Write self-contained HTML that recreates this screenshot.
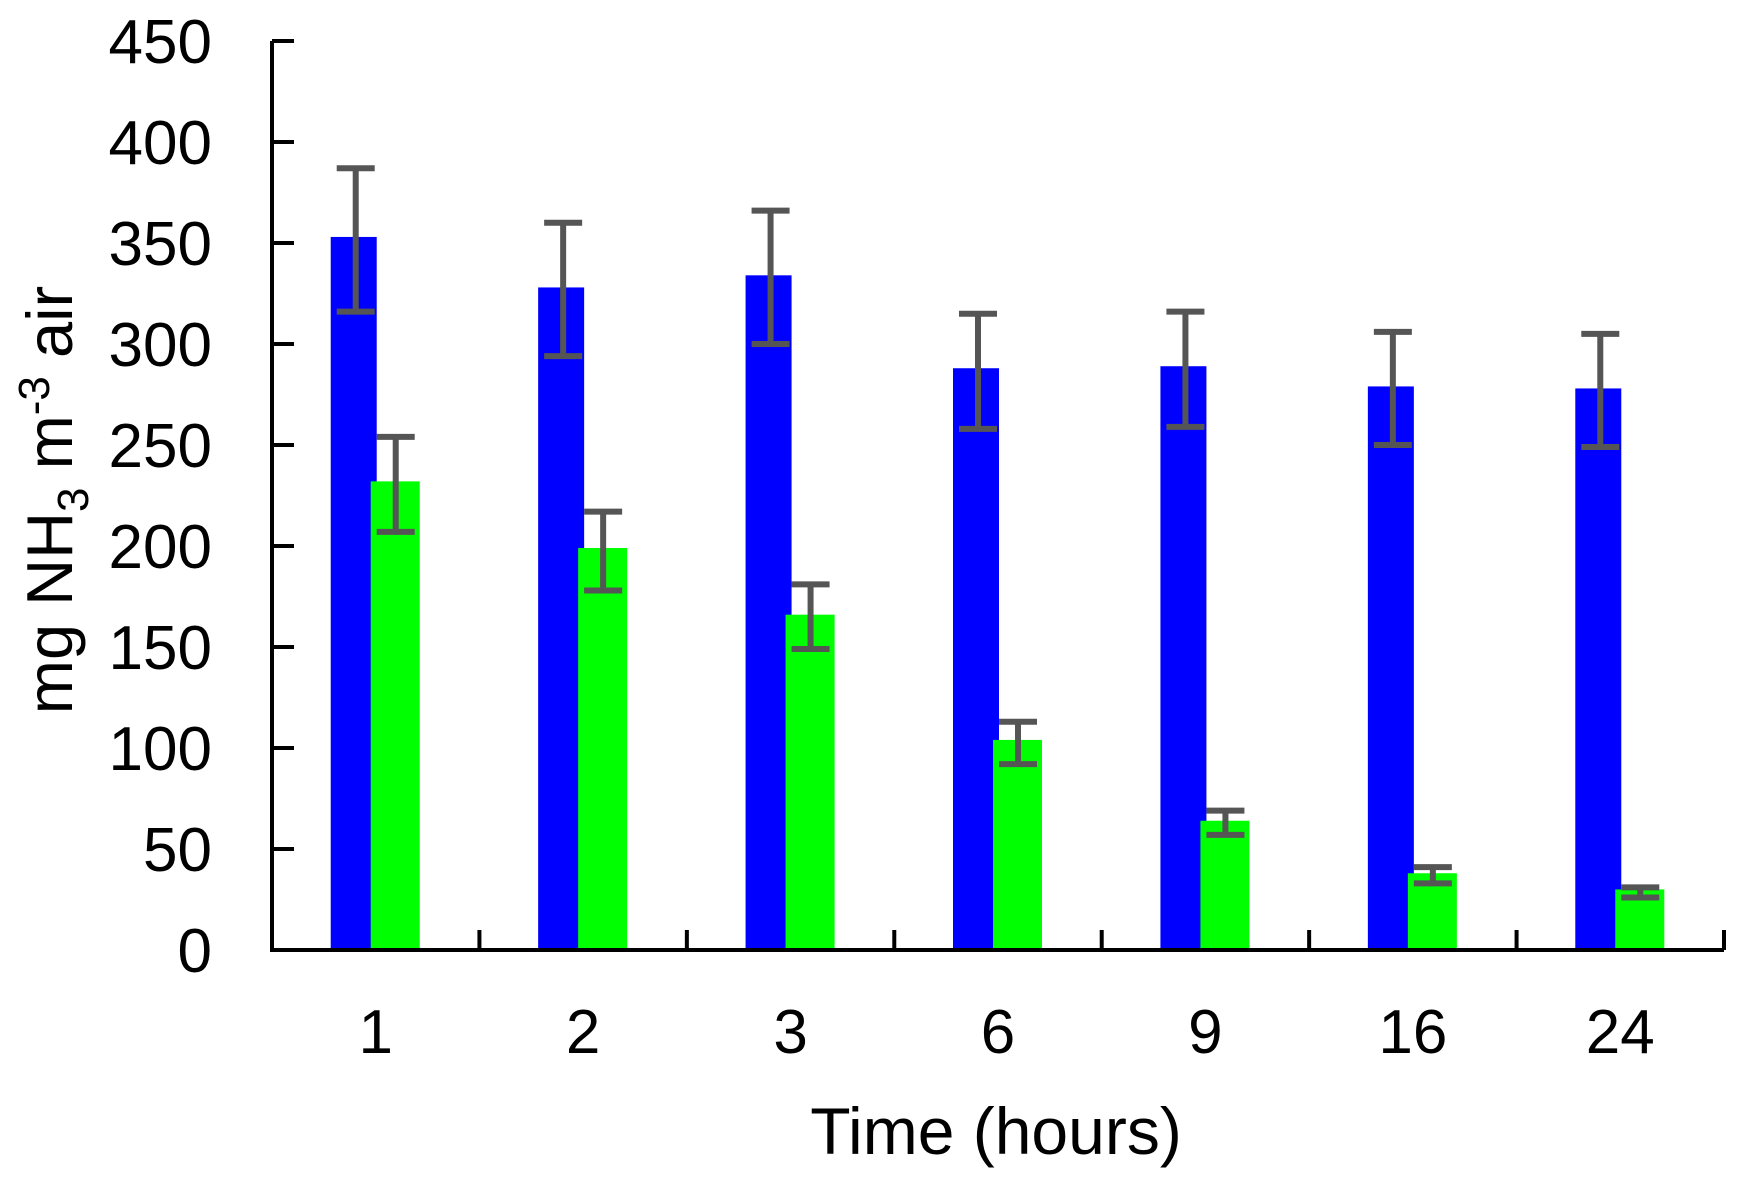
<!DOCTYPE html>
<html><head><meta charset="utf-8"><style>
html,body{margin:0;padding:0;background:#fff;}
svg{display:block;font-family:"Liberation Sans",Arial,sans-serif;}
</style></head><body>
<svg id="chart" width="1741" height="1185" viewBox="0 0 1741 1185" xmlns="http://www.w3.org/2000/svg">
<g id="bars"></g>
<g id="errs"></g>
<g id="axes"></g>
<text x="996" y="1154" font-size="66" text-anchor="middle">Time (hours)</text>
<text transform="translate(72,500) rotate(-90)" font-size="65" text-anchor="middle">mg NH<tspan font-size="44" dy="16">3</tspan><tspan dy="-16"> m</tspan><tspan font-size="44" dy="-23">-3</tspan><tspan dy="23"> air</tspan></text>
</svg>
<script>
const categories = ["1","2","3","6","9","16","24"];
const blueValues = [353,328,334,288,289,279,278];
const blueErrHigh = [387,360,366,315,316,306,305];
const blueErrLow = [316,294,300,258,259,250,249];
const greenValues = [232,199,166,104,64,38,30];
const greenErrHigh = [254,217,181,113,69,41,31];
const greenErrLow = [207,178,149,92,57,33,26];
const yTicks = [0,50,100,150,200,250,300,350,400,450];

const NS="http://www.w3.org/2000/svg";
const x0=272, x1=1724, y0=950, yTop=41, yMax=450;
const band=(x1-x0)/categories.length;
function yScale(v){return y0-(v/yMax)*(y0-yTop);}
function xCenter(i){return x0+band*(i+0.5);}
function mk(tag,attrs,parent){const e=document.createElementNS(NS,tag);for(const k in attrs)e.setAttribute(k,attrs[k]);parent.appendChild(e);return e;}
const bars=document.getElementById('bars'),errs=document.getElementById('errs'),axes=document.getElementById('axes');

categories.forEach((c,i)=>{
  const cx=xCenter(i);
  let b=mk('rect',{x:cx-45,y:yScale(blueValues[i]),width:46,height:y0-yScale(blueValues[i]),fill:'#0000ff'},bars);
  
  
  let g=mk('rect',{x:cx-5,y:yScale(greenValues[i]),width:49,height:y0-yScale(greenValues[i]),fill:'#00ff00'},bars);
  
  
  [[cx-20,blueErrHigh[i],blueErrLow[i],'blue'],[cx+20,greenErrHigh[i],greenErrLow[i],'green']].forEach(([ex,hi,lo,nm])=>{
    const eg=mk('g',{stroke:'#555555','stroke-width':6,fill:'none'},errs);
    
    
    mk('line',{x1:ex,x2:ex,y1:yScale(hi),y2:yScale(lo)},eg);
    mk('line',{x1:ex-19,x2:ex+19,y1:yScale(hi),y2:yScale(hi)},eg);
    mk('line',{x1:ex-19,x2:ex+19,y1:yScale(lo),y2:yScale(lo)},eg);
  });
  const t=mk('text',{x:cx,y:1053,'font-size':62,'text-anchor':'middle'},axes);
  t.textContent=c;
  
  
});
for(let i=0;i<=categories.length;i++){
  const x=x0+band*i;
  mk('line',{x1:x,x2:x,y1:y0,y2:y0-20,stroke:'#000','stroke-width':4},axes);
}
yTicks.forEach(v=>{
  const y=yScale(v);
  mk('line',{x1:x0,x2:x0+22,y1:y,y2:y,stroke:'#000','stroke-width':4},axes);
  const t=mk('text',{x:212,y:y+22,'font-size':62,'text-anchor':'end'},axes);
  t.textContent=v;
  
  
});
const ya=mk('line',{x1:x0,x2:x0,y1:yTop,y2:y0+2,stroke:'#000','stroke-width':4},axes);


const xa=mk('line',{x1:x0-2,x2:x1,y1:y0,y2:y0,stroke:'#000','stroke-width':4},axes);


</script>
</body></html>
